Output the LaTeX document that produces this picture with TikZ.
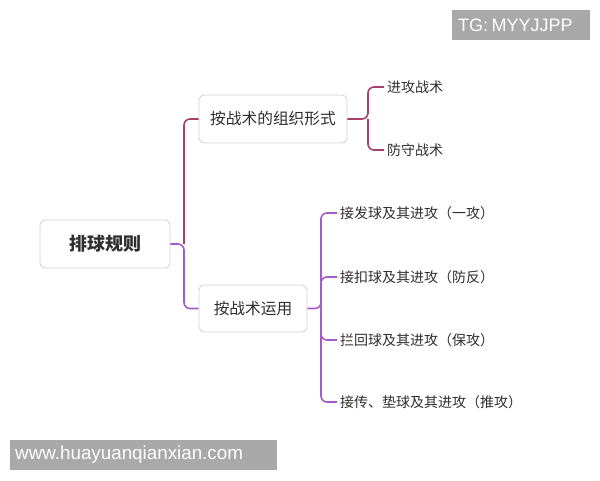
\documentclass[tikz,border=0pt]{standalone}
\usepackage{fontspec}
\setmainfont{Noto Sans CJK SC}
\newfontfamily\wmfont{Liberation Sans}
\definecolor{crim}{HTML}{A8406B}
\definecolor{purp}{HTML}{A35BC9}
\definecolor{boxline}{HTML}{D4D4D4}
\definecolor{txt}{HTML}{2E2E2E}
\definecolor{wm}{HTML}{A9A9A9}
\tikzset{
  topic/.style={draw=boxline, line width=0.9pt, rounded corners=5pt, fill=white, text=txt, inner sep=0pt, font=\fontsize{15.7}{18}\selectfont},
  leaf/.style={anchor=west, text=txt, inner xsep=3pt, inner ysep=0pt, font=\fontsize{14}{16}\selectfont},
  conn/.style={line width=1.6pt, rounded corners=6pt},
  wmbox/.style={fill=wm, text=white, inner ysep=0pt, align=left, anchor=west, font=\wmfont}
}
\begin{document}
\begin{tikzpicture}[x=1pt,y=-1pt]
\useasboundingbox (0,0) rectangle (600,480);
% watermarks
\node[wmbox, inner xsep=6pt, text width=126pt, minimum height=30pt] (wm1) at (452,25) {\fontsize{18}{20}\selectfont TG: MYYJJPP};
\node[wmbox, inner xsep=5pt, text width=257pt, minimum height=30pt] (wm2) at (10,455) {\fontsize{18.8}{20}\selectfont www.huayuanqianxian.com};
% topics
\node[topic, minimum width=130pt, minimum height=48pt, font=\fontsize{18}{20}\selectfont\bfseries] (root) at (105,244) {排球规则};
\node[topic, minimum width=148pt, minimum height=48pt] (b1) at (273,119) {按战术的组织形式};
\node[topic, minimum width=108pt, minimum height=47pt] (b2) at (253,308.5) {按战术运用};
% leaves
\node[leaf] (l1) at (384,87) {进攻战术};
\node[leaf] (l2) at (384,150) {防守战术};
\node[leaf] (m1) at (337,213) {接发球及其进攻（一攻）};
\node[leaf] (m2) at (337,277) {接扣球及其进攻（防反）};
\node[leaf] (m3) at (337,340) {拦回球及其进攻（保攻）};
\node[leaf] (m4) at (337,402) {接传、垫球及其进攻（推攻）};
% branch coordinates
\coordinate (r0) at (184,244);
\coordinate (s1) at (368,119);
\coordinate (s2) at (321,308.5);
% connectors
\draw[conn, purp] (root.east) -- (r0) |- (b2.west);
\draw[conn, crim] (r0) |- (b1.west);
\draw[conn, crim] (b1.east) -- (s1) |- (l1.west);
\draw[conn, crim] (s1) |- (l2.west);
\draw[conn, purp] (b2.east) -- (s2) |- (m1.west);
\draw[conn, purp] (s2) |- (m2.west);
\draw[conn, purp] (s2) |- (m3.west);
\draw[conn, purp] (s2) |- (m4.west);
\end{tikzpicture}
\end{document}
